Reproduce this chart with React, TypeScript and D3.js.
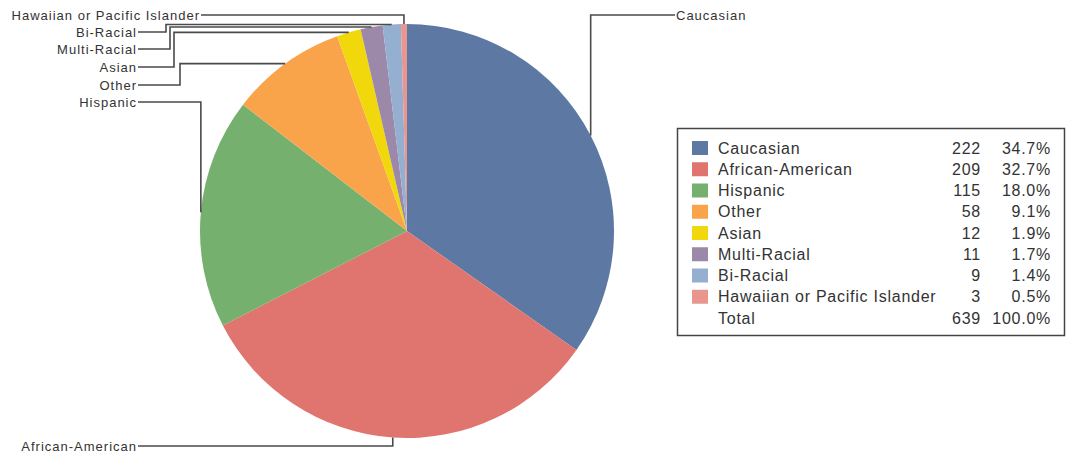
import * as d3 from "d3";
import { useMemo } from "react";

const categories = [
  "Caucasian",
  "African-American",
  "Hispanic",
  "Other",
  "Asian",
  "Multi-Racial",
  "Bi-Racial",
  "Hawaiian or Pacific Islander",
];
const counts = [222, 209, 115, 58, 12, 11, 9, 3];
const percents = ["34.7%", "32.7%", "18.0%", "9.1%", "1.9%", "1.7%", "1.4%", "0.5%"];
const totalCount = 639;
const totalPercent = "100.0%";
const colors = ["#5d79a3", "#e0756f", "#76b06e", "#f9a44a", "#f0d80c", "#9c88a8", "#94afd0", "#e8968f"];

// leader line routing: label y, optional elbow x, label end x
const labelY = [15, 446, 102, 85, 67, 49, 32, 15];
const elbowX = [null, null, null, 180, 174, 170, 166, null] as (number | null)[];
const labelX = [675, 138, 138, 138, 138, 138, 138, 201];

const W = 1079;
const H = 465;
const cx = 407;
const cy = 231;
const r = 207;

const font = "'Liberation Sans', Arial, sans-serif";

export default function App() {
  const arcs = useMemo(() => {
    const pie = d3.pie<number>().sort(null).value((d) => d);
    return pie(counts);
  }, []);
  const arc = d3.arc<d3.PieArcDatum<number>>().innerRadius(0).outerRadius(r);
  const edge = d3.arc<d3.PieArcDatum<number>>().innerRadius(r).outerRadius(r);

  const rowY = d3.scaleLinear().domain([0, 8]).range([148, 318]);

  return (
    <svg width={W} height={H} style={{ position: "absolute", left: 0, top: 0, background: "#fff" }}>
      <g transform={`translate(${cx},${cy})`}>
        {arcs.map((a, i) => (
          <path key={i} d={arc(a) ?? ""} fill={colors[i]} />
        ))}
      </g>
      <g fill="none" stroke="#4a4a4a" strokeWidth={1.6}>
        {arcs.map((a, i) => {
          const [px, py] = edge.centroid(a);
          const x0 = cx + px;
          const y0 = cy + py;
          const ex = elbowX[i];
          const d =
            ex == null
              ? `M${x0},${y0}V${labelY[i]}H${labelX[i]}`
              : `M${x0},${y0}H${ex}V${labelY[i]}H${labelX[i]}`;
          return <path key={i} d={d} />;
        })}
      </g>
      <g fontFamily={font} fontSize={13} fill="#333" letterSpacing={1}>
        {categories.map((c, i) => (
          <text
            key={c}
            x={i === 0 ? labelX[i] + 1 : labelX[i] - 1}
            y={labelY[i]}
            dy="0.35em"
            textAnchor={i === 0 ? "start" : "end"}
          >
            {c}
          </text>
        ))}
      </g>
      <rect x={677.5} y={128.5} width={387} height={207} fill="#fff" stroke="#444" strokeWidth={1.5} />
      <g fontFamily={font} fontSize={16} fill="#333" letterSpacing={0.75}>
        {categories.map((c, i) => (
          <g key={c}>
            <rect x={692} y={rowY(i) - 7} width={16} height={14} fill={colors[i]} />
            <text x={718} y={rowY(i)} dy="0.35em">
              {c}
            </text>
            <text x={981} y={rowY(i)} dy="0.35em" textAnchor="end">
              {counts[i]}
            </text>
            <text x={1051} y={rowY(i)} dy="0.35em" textAnchor="end">
              {percents[i]}
            </text>
          </g>
        ))}
        <text x={718} y={rowY(8)} dy="0.35em">
          Total
        </text>
        <text x={981} y={rowY(8)} dy="0.35em" textAnchor="end">
          {totalCount}
        </text>
        <text x={1051} y={rowY(8)} dy="0.35em" textAnchor="end">
          {totalPercent}
        </text>
      </g>
    </svg>
  );
}
